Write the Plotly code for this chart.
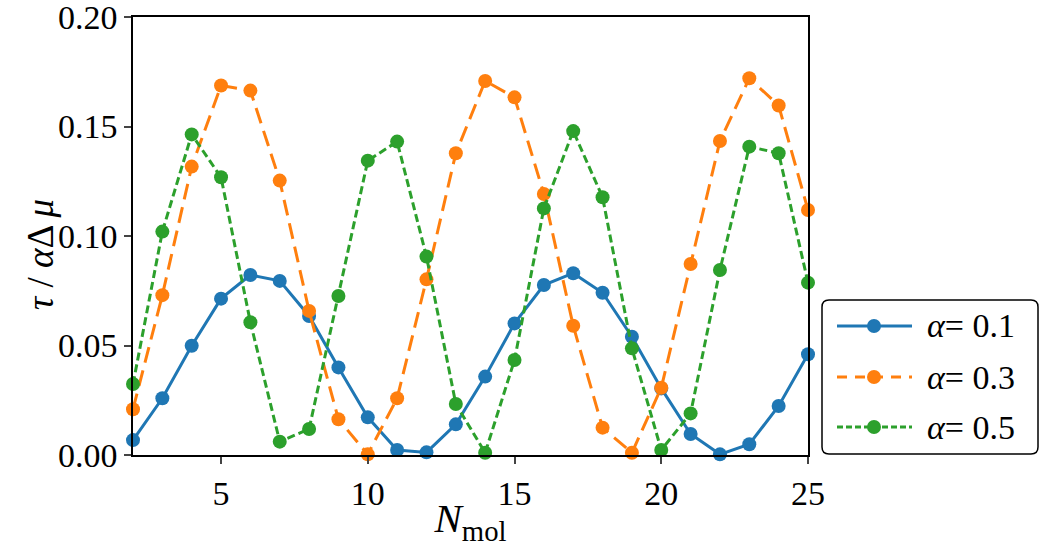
import plotly.graph_objects as go

n_mol = list(range(2, 26))
tau_a01 = [0.0068, 0.0259, 0.0499, 0.0714, 0.0822, 0.0795, 0.0635, 0.0400, 0.0172, 0.0023, 0.0012, 0.0140,
           0.0358, 0.0601, 0.0776, 0.0830, 0.0741, 0.0540, 0.0304, 0.0096, 0.0003, 0.0049, 0.0224, 0.0460]
tau_a03 = [0.0209, 0.0730, 0.1317, 0.1687, 0.1664, 0.1253, 0.0658, 0.0163, 0.0003, 0.0259, 0.0802, 0.1378,
           0.1708, 0.1633, 0.1192, 0.0590, 0.0125, 0.0010, 0.0307, 0.0872, 0.1434, 0.1720, 0.1596, 0.1119]
tau_a05 = [0.0324, 0.1020, 0.1464, 0.1268, 0.0606, 0.0061, 0.0119, 0.0726, 0.1344, 0.1431, 0.0906, 0.0233,
           0.0010, 0.0434, 0.1126, 0.1479, 0.1177, 0.0487, 0.0023, 0.0190, 0.0845, 0.1408, 0.1378, 0.0787]
labels = ["<i>α</i>= 0.1", "<i>α</i>= 0.3", "<i>α</i>= 0.5"]
x_ticks = [5, 10, 15, 20, 25]
y_ticks = [0.0, 0.05, 0.10, 0.15, 0.20]

colors = ["#1f77b4", "#ff7f0e", "#2ca02c"]
dashes = ["solid", "16px,8px", "8px,4px"]
legend_dashes = ["solid", "10px,8px", "6px,3px"]

W, H = 1043, 547
ML, MR, MT, MB = 133, 235, 17, 92
PW, PH = W - ML - MR, H - MT - MB


def px_x(px):
    return (px - ML) / PW


def px_y(py):
    return (H - MB - py) / PH


fig = go.Figure()
for ys, lab, c, d in zip([tau_a01, tau_a03, tau_a05], labels, colors, dashes):
    fig.add_trace(go.Scatter(
        x=n_mol, y=ys, name=lab, mode="lines+markers",
        line=dict(color=c, width=3, dash=d),
        marker=dict(color=c, size=14, line=dict(width=0)),
        cliponaxis=False, showlegend=False,
    ))

# custom legend (matplotlib-like, rounded frame, long handles)
bx0, bx1, by0, by1, r = 822, 1038, 300, 454, 7
path = (f"M {px_x(bx0 + r)},{px_y(by0)} L {px_x(bx1 - r)},{px_y(by0)} "
        f"Q {px_x(bx1)},{px_y(by0)} {px_x(bx1)},{px_y(by0 + r)} "
        f"L {px_x(bx1)},{px_y(by1 - r)} Q {px_x(bx1)},{px_y(by1)} {px_x(bx1 - r)},{px_y(by1)} "
        f"L {px_x(bx0 + r)},{px_y(by1)} Q {px_x(bx0)},{px_y(by1)} {px_x(bx0)},{px_y(by1 - r)} "
        f"L {px_x(bx0)},{px_y(by0 + r)} Q {px_x(bx0)},{px_y(by0)} {px_x(bx0 + r)},{px_y(by0)} Z")
shapes = [dict(type="path", xref="paper", yref="paper", path=path,
               line=dict(color="black", width=1.5), fillcolor="white", layer="above")]
annotations = []
row_y = [326, 377, 427]
for lab, c, d, ry in zip(labels, colors, legend_dashes, row_y):
    shapes.append(dict(type="line", xref="paper", yref="paper",
                       x0=px_x(837), x1=px_x(912), y0=px_y(ry), y1=px_y(ry),
                       line=dict(color=c, width=3, dash=d), layer="above"))
    shapes.append(dict(type="circle", xref="paper", yref="paper",
                       xsizemode="pixel", ysizemode="pixel",
                       xanchor=px_x(874), yanchor=px_y(ry),
                       x0=-7, x1=7, y0=-7, y1=7,
                       fillcolor=c, line=dict(width=0), layer="above"))
    annotations.append(dict(xref="paper", yref="paper", x=px_x(925), y=px_y(ry),
                            xanchor="left", yanchor="middle", text=lab, showarrow=False,
                            font=dict(family="Liberation Serif, serif", size=34, color="black")))

# y-axis title placed like the reference
annotations.append(dict(xref="paper", yref="paper", x=px_x(40), y=px_y(255),
                        xanchor="center", yanchor="middle", textangle=-90,
                        text="<i>τ</i> / <i>α</i>Δ <i>μ</i>", showarrow=False,
                        font=dict(family="Liberation Serif, serif", size=37, color="black")))

font = dict(family="Liberation Serif, serif", size=34, color="black")
fig.update_layout(
    width=W, height=H,
    margin=dict(l=ML, r=MR, t=MT, b=MB),
    paper_bgcolor="white", plot_bgcolor="white",
    font=font,
    showlegend=False,
    shapes=shapes,
    annotations=annotations,
    xaxis=dict(
        range=[2, 25], tickvals=x_ticks, ticks="outside", ticklen=7, tickwidth=1.5,
        showline=True, linecolor="black", linewidth=1.5, mirror=True,
        showgrid=False, zeroline=False, ticklabeloverflow="allow", automargin=False,
        title=dict(text="<i>N</i><sub>mol</sub>", standoff=4),
    ),
    yaxis=dict(
        range=[0, 0.20], tickvals=y_ticks, tickformat=".2f", ticks="outside", ticklen=7, tickwidth=1.5,
        showline=True, linecolor="black", linewidth=1.5, mirror=True,
        showgrid=False, zeroline=False, ticklabeloverflow="allow", automargin=False,
    ),
)
fig.write_html("out.html")
